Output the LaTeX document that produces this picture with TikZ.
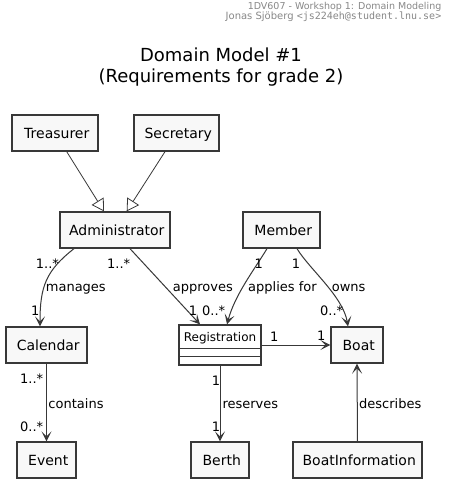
\documentclass[tikz,border=0pt]{standalone}
\usepackage{fontspec}
\setmainfont{DejaVu Sans}
\setmonofont{DejaVu Sans Mono}
\usetikzlibrary{arrows.meta,calc}
\definecolor{boxfill}{HTML}{F8F8F8}
\definecolor{edgec}{HTML}{383838}
\definecolor{hdrc}{HTML}{888888}
\tikzset{
  cls/.style={draw=edgec, line width=1.3pt, fill=boxfill, inner sep=0pt,
    text height=10.2pt, text depth=0pt, font=\fontsize{14}{16}\selectfont,
    execute at begin node={\hspace*{3.5pt}}},
  assoc/.style={draw=edgec, line width=1pt,
    -{Stealth[length=10pt,width=10pt,inset=5pt]}},
  gen/.style={draw=edgec, line width=0.8pt,
    -{Triangle[open,length=12pt,width=14pt,line width=0.8pt]}},
  lbl/.style={inner sep=0pt, anchor=base west, text=black,
    font=\fontsize{13}{15}\selectfont},
  ttl/.style={inner sep=0pt, anchor=base, font=\fontsize{18}{21}\selectfont},
  hdr/.style={inner sep=0pt, anchor=base east, text=hdrc, font=\fontsize{9.5}{11}\selectfont}
}
\begin{document}
\begin{tikzpicture}[x=1pt,y=-1pt]
\useasboundingbox (0,0) rectangle (451,488);
\fill[white] (0,0) rectangle (451,488);

% header
\node[hdr] (h1) at (441.5,9) {1DV607 - Workshop 1: Domain Modeling};
\node[hdr, font=\fontsize{10}{12}\selectfont] (h2) at (441.5,19.5) {Jonas Sjöberg \texttt{<js224eh@student.lnu.se>}};

% title
\node[ttl] (t1) at (221,61) {Domain Model \#1};
\node[ttl] (t2) at (221,82) {(Requirements for grade 2)};

% classes
\node[cls, minimum width=86pt, minimum height=36pt] (tre) at (55,133) {Treasurer};
\node[cls, minimum width=85pt, minimum height=36pt] (sec) at (176.5,133) {Secretary};
\node[cls, minimum width=110pt, minimum height=36pt] (adm) at (115,230) {Administrator};
\node[cls, minimum width=77pt, minimum height=36pt] (mem) at (281.5,230) {Member};
\node[cls, minimum width=81pt, minimum height=36pt] (cal) at (46.5,345) {Calendar};
\node[cls, minimum width=52pt, minimum height=36pt] (boat) at (357,345) {Boat};
\node[cls, minimum width=59pt, minimum height=36pt] (evt) at (46.5,460) {Event};
\node[cls, minimum width=58pt, minimum height=36pt] (ber) at (220,460) {Berth};
\node[cls, minimum width=129pt, minimum height=36pt] (binf) at (357.5,460) {BoatInformation};

% Registration (class with empty compartments)
\node[draw=edgec, line width=1.3pt, fill=white, inner sep=0pt,
  minimum width=82pt, minimum height=40pt] (reg) at (220,345) {};
\node[inner sep=0pt, anchor=base, font=\fontsize{12}{14}\selectfont] (regname) at (220,341) {Registration};
\draw[edgec, line width=1.3pt] ($(reg.north west)+(0,24)$) -- ($(reg.north east)+(0,24)$);
\draw[edgec, line width=1.3pt] ($(reg.north west)+(0,32)$) -- ($(reg.north east)+(0,32)$);

% generalizations
\draw[gen] ([xshift=11.7pt]tre.south) -- ([xshift=-11pt]adm.north);
\draw[gen] ([xshift=-11.5pt]sec.south) -- ([xshift=11.7pt]adm.north);

% associations
\draw[assoc] ([xshift=-41pt]adm.south) .. controls +(-28,22) and +(0,-40) .. ([xshift=-6.5pt]cal.north);
\draw[assoc] ([xshift=15pt]adm.south) -- ([xshift=-20pt]reg.north);
\draw[assoc] ([xshift=-14.5pt]mem.south) .. controls +(-12,20) and +(8,-30) .. ([xshift=7pt]reg.north);
\draw[assoc] ([xshift=15.5pt]mem.south) .. controls +(12,20) and +(-5,-30) .. ([xshift=-9pt]boat.north);
\draw[assoc] (reg.east) -- (boat.west);
\draw[assoc] (cal.south) -- (evt.north);
\draw[assoc] (reg.south) -- (ber.north);
\draw[assoc] (binf.north) -- (boat.south);

% labels
\node[lbl] (l1) at (35.7,268) {1..*};
\node[lbl] (l2) at (45.7,291) {manages};
\node[lbl] (l3) at (31,315) {1};
\node[lbl] (l4) at (107,268) {1..*};
\node[lbl] (l5) at (172.7,291) {approves};
\node[lbl] (l6) at (188.7,315) {1};
\node[lbl] (l7) at (202,315) {0..*};
\node[lbl] (l8) at (254.3,268) {1};
\node[lbl] (l9) at (248,291) {applies for};
\node[lbl] (l10) at (291.7,268) {1};
\node[lbl] (l11) at (331.7,291) {owns};
\node[lbl] (l12) at (320,315) {0..*};
\node[lbl] (l13) at (270,341) {1};
\node[lbl] (l14) at (317,340) {1};
\node[lbl] (l15) at (20,383) {1..*};
\node[lbl] (l16) at (48.3,408) {contains};
\node[lbl] (l17) at (20,431) {0..*};
\node[lbl] (l18) at (211.7,385) {1};
\node[lbl] (l19) at (222.3,408) {reserves};
\node[lbl] (l20) at (211.7,431) {1};
\node[lbl] (l21) at (359,408) {describes};
\end{tikzpicture}
\end{document}
